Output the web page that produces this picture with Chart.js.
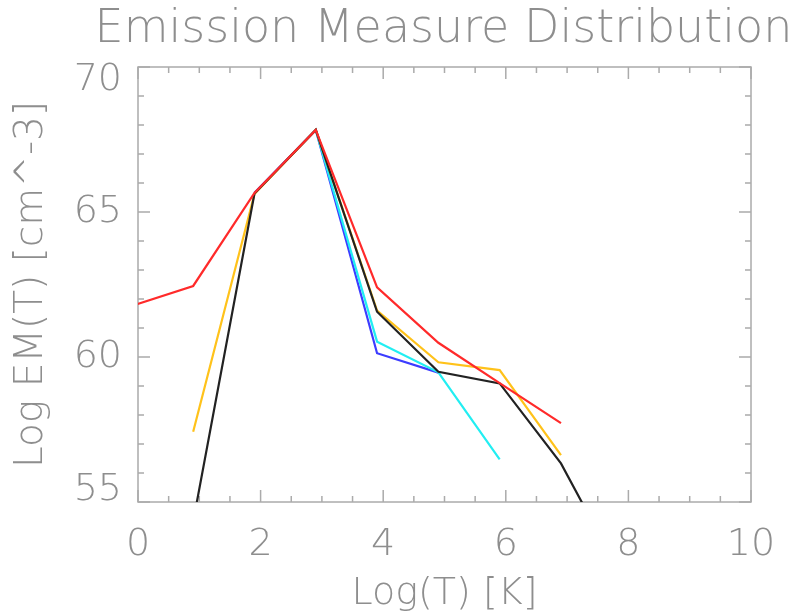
<!DOCTYPE html>
<html>
<head>
<meta charset="utf-8">
<script src="https://cdn.jsdelivr.net/npm/chart.js@4/dist/chart.umd.min.js"></script>
<style>
  html, body { margin: 0; padding: 0; background: #fff; }
  #chart { display: block; }
</style>
</head>
<body>
<canvas id="chart" width="796" height="614"></canvas>
<script>
// Log(T) positions of the points
const logT = [-0.1, 0.9, 1.9, 2.9, 3.9, 4.9, 5.9, 6.9, 7.9];

// Log EM(T) per curve (null = no point)
const emRed    = [61.76, 62.45, 65.66, 67.83, 62.40, 60.49, 59.10, 57.72, null];
const emBlack  = [null, 54.32, 65.64, 67.83, 61.56, 59.49, 59.09, 56.33, 52.40];
const emOrange = [null, 57.42, 65.62, 67.83, 61.60, 59.82, 59.55, 56.62, null];
const emCyan   = [null, null, null, 67.83, 60.53, 59.47, 56.47, null, null];
const emBlue   = [null, null, 65.66, 67.83, 60.13, 59.46, null, null, null];

const xTickLabels = ['0', '2', '4', '6', '8', '10'];
const yTickLabels = ['55', '60', '65', '70'];
const chartTitle = 'Emission Measure Distribution';

const FONT = "'DejaVu Sans ExtraLight', 'DejaVu Sans', sans-serif";
const TEXT_COLOR = '#8e8e8e';
const AXIS_COLOR = '#ababab';

function toPoints(values) {
  return logT.map((x, i) => ({ x: x, y: values[i] }));
}

// рамка и засечки внутрь, как в IDL
const boxPlugin = {
  id: 'idlBox',
  beforeDatasetsDraw(chart) {
    const { ctx, chartArea: a, scales } = chart;
    const xs = scales.x, ys = scales.y;
    ctx.save();
    ctx.strokeStyle = AXIS_COLOR;
    ctx.lineWidth = 1.5;
    ctx.strokeRect(a.left, a.top, a.right - a.left, a.bottom - a.top);
    ctx.beginPath();
    for (let v = xs.min; v <= xs.max + 1e-9; v += 0.5) {
      const px = xs.getPixelForValue(v);
      const len = Math.abs(v % 2) < 1e-9 ? 12 : 6;
      ctx.moveTo(px, a.bottom); ctx.lineTo(px, a.bottom - len);
      ctx.moveTo(px, a.top); ctx.lineTo(px, a.top + len);
    }
    for (let v = ys.min; v <= ys.max + 1e-9; v += 1) {
      const py = ys.getPixelForValue(v);
      const len = Math.abs(v % 5) < 1e-9 ? 12 : 6;
      ctx.moveTo(a.left, py); ctx.lineTo(a.left + len, py);
      ctx.moveTo(a.right, py); ctx.lineTo(a.right - len, py);
    }
    ctx.stroke();
    ctx.restore();
  },
  afterDraw(chart) {
    const { ctx, chartArea: a, scales } = chart;
    ctx.save();
    ctx.fillStyle = TEXT_COLOR;

    // заголовок над областью графика (без сжатия по ширине)
    ctx.font = `200 46px ${FONT}`;
    ctx.textAlign = 'center';
    ctx.textBaseline = 'middle';
    ctx.fillText(chartTitle, (a.left + a.right) / 2 - 1, 30);

    // подписи оси Y: крайние сдвинуты внутрь
    ctx.font = `200 38px ${FONT}`;
    ctx.textAlign = 'right';
    yTickLabels.forEach((label) => {
      let py = scales.y.getPixelForValue(Number(label));
      py = Math.min(Math.max(py, a.top + 13), a.bottom - 12);
      ctx.fillText(label, a.left - 16, py);
    });
    ctx.restore();
  },
};

const ds = (label, values, color) => ({
  label: label,
  data: toPoints(values),
  borderColor: color,
  borderWidth: 2.2,
  pointRadius: 0,
  fill: false,
  tension: 0,
  spanGaps: false,
});

new Chart(document.getElementById('chart').getContext('2d'), {
  type: 'line',
  data: {
    datasets: [
      ds('red', emRed, '#ff2a2a'),
      ds('black', emBlack, '#222222'),
      ds('orange', emOrange, '#ffc21a'),
      ds('cyan', emCyan, '#22eef2'),
      ds('blue', emBlue, '#3c3cff'),
    ],
  },
  options: {
    responsive: false,
    animation: false,
    layout: { padding: { left: 0, right: 45, top: 67, bottom: 0 } },
    plugins: {
      legend: { display: false },
      tooltip: { enabled: false },
      title: { display: false },
    },
    scales: {
      x: {
        type: 'linear',
        position: 'bottom',
        min: 0,
        max: 10,
        grid: { display: false, drawTicks: false },
        border: { display: false },
        ticks: {
          stepSize: 2,
          padding: 20,
          color: TEXT_COLOR,
          font: { family: FONT, size: 38, weight: 200 },
          callback: (v) => xTickLabels[v / 2],
        },
        title: {
          display: true,
          text: 'Log(T) [K]',
          color: TEXT_COLOR,
          font: { family: FONT, size: 38, weight: 200 },
          padding: { top: 0, bottom: -3 },
        },
        afterFit: (scale) => { scale.height = 112; },
      },
      y: {
        type: 'linear',
        position: 'left',
        min: 55,
        max: 70,
        grid: { display: false, drawTicks: false },
        border: { display: false },
        ticks: { display: false },
        title: {
          display: true,
          text: 'Log EM(T) [cm^-3]',
          color: TEXT_COLOR,
          font: { family: FONT, size: 39, weight: 200 },
          padding: { top: 8, bottom: 0 },
        },
        afterFit: (scale) => { scale.width = 138; },
      },
    },
  },
  plugins: [boxPlugin],
});
</script>
</body>
</html>
